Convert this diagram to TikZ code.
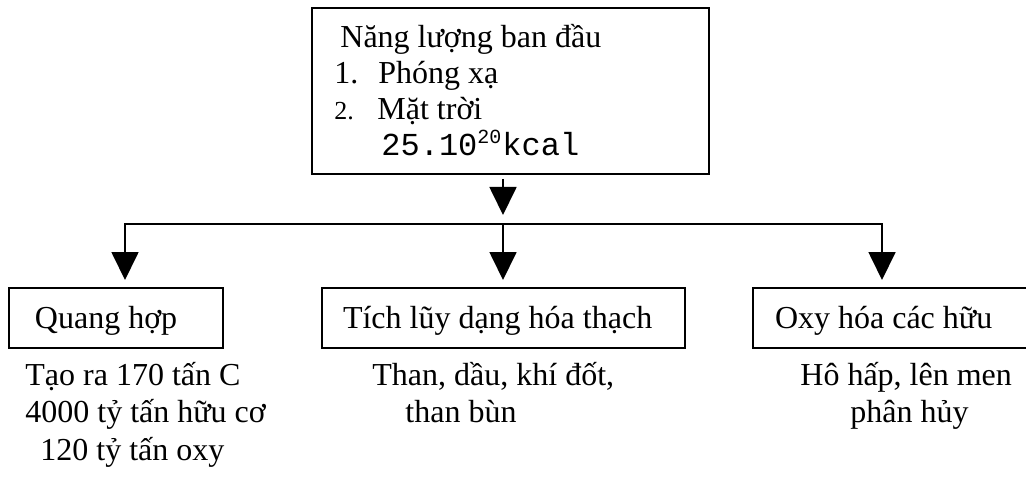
\documentclass[tikz,border=0pt]{standalone}
\usepackage{fontspec}
\setmainfont{Liberation Serif}
\setmonofont{Liberation Mono}
\usetikzlibrary{arrows.meta,calc}
\begin{document}
\begin{tikzpicture}[x=0.5pt,y=-0.5pt,
  box/.style={draw, line width=1pt, inner xsep=0pt, inner ysep=0pt, outer sep=0pt, minimum height=30pt, text height=12pt, text depth=2pt, anchor=west, align=flush left, font=\fontsize{16}{19}\selectfont},
  conn/.style={line width=0.9pt},
  arr/.style={conn, -{Triangle[width=13.5pt,length=14pt]}},
  txt/.style={anchor=base west, inner sep=0pt, font=\fontsize{16}{19}\selectfont}]
\useasboundingbox (0,0) rectangle (1026,497);
\clip (0,0) rectangle (1026,497);
% top box
\node[draw, line width=1pt, minimum width=198.5pt, minimum height=83pt, inner sep=0pt, outer sep=0pt] (top) at (510.5,91) {};
\node[txt] (t1) at (340,48) {Năng lượng ban đầu};
\node[txt] (n1) at (334,84) {1.};
\node[txt] (t2) at (378,84) {Phóng xạ};
\node[txt, font=\fontsize{13}{15}\selectfont] (n2) at (334,120) {2.};
\node[txt] (t3) at (377,120) {Mặt trời};
\node[txt, font=\ttfamily\fontsize{16}{19}\selectfont] (t4) at (381,156) {25.10\textsuperscript{\fontsize{10}{12}\selectfont 20}kcal};
% bottom boxes
\node[box, text width=107pt] (a) at (9,318) {\hspace*{13pt}Quang hợp};
\node[box, text width=181.5pt] (b) at (322,318) {\hspace*{10.5pt}Tích lũy dạng hóa thạch};
\node[box, text width=138.5pt] (c) at (753,318) {\hspace*{11pt}Oxy hóa các hữu};
% connectors
\coordinate (j) at (503,224);
\coordinate (jl) at (125,224);
\coordinate (jr) at (882,224);
\draw[arr] ($(top.south -| j)+(0,5)$) -- ($(j)+(0,-9)$);
\draw[arr] (j) -- (jl) -- ($(a.north -| jl)+(0,-8)$);
\draw[arr] (j) -- (jr) -- ($(c.north -| jr)+(0,-8)$);
\draw[arr] (j) -- ($(b.north -| j)+(0,-8)$);
% texts below
\node[txt] (a1) at (25,385) {Tạo ra 170 tấn C};
\node[txt] (a2) at (25,422) {4000 tỷ tấn hữu cơ};
\node[txt] (a3) at (40,460) {120 tỷ tấn oxy};
\node[txt] (b1) at (372,385) {Than, dầu, khí đốt,};
\node[txt] (b2) at (405,422) {than bùn};
\node[txt] (c1) at (800,385) {Hô hấp, lên men};
\node[txt] (c2) at (850,422) {phân hủy};
\end{tikzpicture}
\end{document}
